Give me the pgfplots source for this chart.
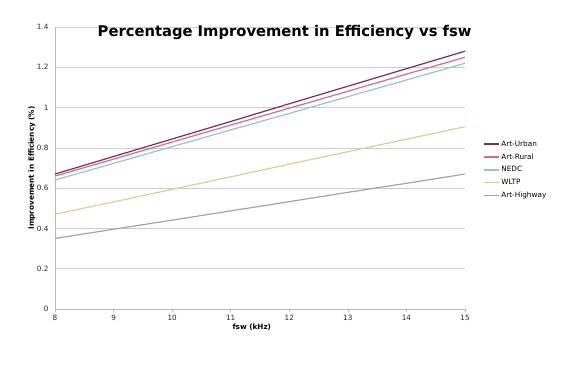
\documentclass[border=0pt]{standalone}
\usepackage{pgfplots}
\pgfplotsset{compat=1.18}
\usepackage{fontspec}
\setmainfont{DejaVu Sans}
\definecolor{urban}{HTML}{7E2A5C}
\definecolor{rural}{HTML}{DB6A82}
\definecolor{nedc}{HTML}{96C5C2}
\definecolor{wltp}{HTML}{CDD495}
\definecolor{hwy}{HTML}{A3A3A3}
\definecolor{gridc}{HTML}{CCCCCC}
\definecolor{axc}{HTML}{B8B8B8}
\begin{document}
\begin{tikzpicture}
\path[use as bounding box] (0,0) rectangle (578bp,376bp);
\begin{axis}[
  at={(55bp,67bp)}, anchor=south west,
  scale only axis, width=410bp, height=282bp,
  xmin=8, xmax=15, ymin=0, ymax=1.4,
  xtick={8,...,15}, ytick={0,0.2,...,1.4},
  axis x line*=bottom, axis y line*=left,
  axis line style={axc, line width=0.6pt, -},
  ymajorgrids, grid style={gridc, line width=0.6pt},
  tick style={axc, line width=0.6pt},
  xtick style={draw=axc}, ytick style={draw=none},
  tick align=outside, major tick length=3bp,
  ticklabel style={font=\fontsize{7.3}{8}\selectfont, text=black!85},
  /pgf/number format/assume math mode=true,
  yticklabel style={/pgf/number format/fixed},
  xlabel={\textbf{fsw (kHz)}},
  ylabel={\textbf{Improvement in Efficiency (\%)}},
  label style={font=\fontsize{7.3}{8}\selectfont},
  xlabel style={at={(axis description cs:0.48,0)}, anchor=north, yshift=-11bp},
  ylabel style={at={(axis description cs:0,0.5)}, anchor=south, yshift=16bp},
  legend style={at={(rel axis cs:1.044,0.605)}, anchor=north west, draw=none, fill=none,
    font=\fontsize{7.3}{8}\selectfont, row sep=2bp, inner sep=0pt},
  legend cell align=left,
  legend image code/.code={\draw[#1] (0bp,0bp) -- (15bp,0bp);},
  every axis plot/.append style={line width=1.2pt, mark=none},
  clip=false,
]
\addplot[urban] coordinates {(8,0.670) (9,0.757) (10,0.844) (11,0.931) (12,1.019) (13,1.106) (14,1.193) (15,1.280)};
\addlegendentry{Art-Urban}
\addplot[rural] coordinates {(8,0.660) (9,0.744) (10,0.829) (11,0.913) (12,0.997) (13,1.081) (14,1.166) (15,1.250)};
\addlegendentry{Art-Rural}
\addplot[nedc] coordinates {(8,0.640) (9,0.723) (10,0.806) (11,0.889) (12,0.971) (13,1.054) (14,1.137) (15,1.220)};
\addlegendentry{NEDC}
\addplot[wltp] coordinates {(8,0.470) (9,0.532) (10,0.594) (11,0.656) (12,0.719) (13,0.781) (14,0.843) (15,0.905)};
\addlegendentry{WLTP}
\addplot[hwy] coordinates {(8,0.350) (9,0.396) (10,0.441) (11,0.487) (12,0.533) (13,0.579) (14,0.624) (15,0.670)};
\addlegendentry{Art-Highway}
\node[font=\bfseries\fontsize{14.8}{16}\selectfont, anchor=center] at (rel axis cs:0.56,0.979) {Percentage Improvement in Efficiency vs fsw};
\end{axis}
\end{tikzpicture}
\end{document}
